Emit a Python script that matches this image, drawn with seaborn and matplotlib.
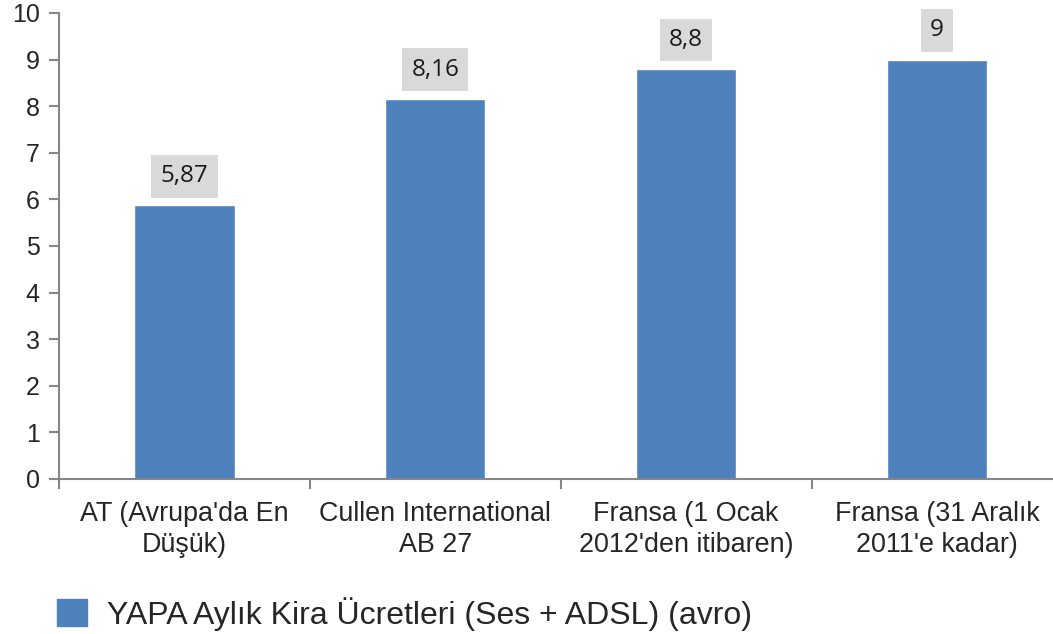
import matplotlib
matplotlib.use("Agg")
import matplotlib.pyplot as plt
import matplotlib.patches as mpatches
import seaborn as sns
import pandas as pd

categories = ["AT (Avrupa'da En\nDüşük)", "Cullen International\nAB 27",
              "Fransa (1 Ocak\n2012'den itibaren)", "Fransa (31 Aralık\n2011'e kadar)"]
values = [5.87, 8.16, 8.8, 9]
value_labels = ["5,87", "8,16", "8,8", "9"]
series_name = "YAPA Aylık Kira Ücretleri (Ses + ADSL) (avro)"

bar_color = "#4f81bd"
axis_color = "#868686"

sns.set_style("white")
plt.rcParams['font.family'] = ['Liberation Sans', 'DejaVu Sans']

df = pd.DataFrame({"kategori": categories, "deger": values})

fig = plt.figure(figsize=(10.53, 6.34), dpi=100)
ax = fig.add_axes([0.056, 0.2445, 0.953, 0.735])

sns.barplot(data=df, x="kategori", y="deger", color=bar_color, width=0.4,
            saturation=1, ax=ax)

ax.set_xlim(-0.5, len(categories) - 0.5)
ax.set_ylim(0, 10)
ax.set_yticks(range(0, 11))
ax.set_xlabel("")
ax.set_ylabel("")

# data labels in grey boxes
for i, (v, lab) in enumerate(zip(values, value_labels)):
    ax.annotate(lab, (i, v), xytext=(0, 21), textcoords="offset points",
                ha="center", va="center", fontsize=17.5, family=["Open Sans", "DejaVu Sans"],
                color="#1a1a1a",
                bbox=dict(boxstyle="square,pad=0.38", fc="#d9d9d9", ec="none"))

for side in ["top", "right"]:
    ax.spines[side].set_visible(False)
for side in ["left", "bottom"]:
    ax.spines[side].set_color(axis_color)
    ax.spines[side].set_linewidth(1.5)

ax.tick_params(axis="y", left=True, direction="out", length=7, width=1.5,
               color=axis_color, labelsize=18, pad=7)
ax.tick_params(axis="x", which="major", length=0, labelsize=19.4, pad=16)
ax.set_xticks([i - 0.5 for i in range(len(categories) + 1)], minor=True)
ax.tick_params(axis="x", which="minor", bottom=True, direction="out", length=7,
               width=1.5, color=axis_color)
for t in ax.get_xticklabels():
    t.set_linespacing(1.25)

handle = mpatches.Patch(color=bar_color, label=series_name)
fig.legend(handles=[handle], loc="lower left", bbox_to_anchor=(0.027, -0.04),
           frameon=False, fontsize=23, handlelength=0.92, handleheight=0.92,
           handletextpad=0.65)

fig.savefig("out.png", dpi=100)
